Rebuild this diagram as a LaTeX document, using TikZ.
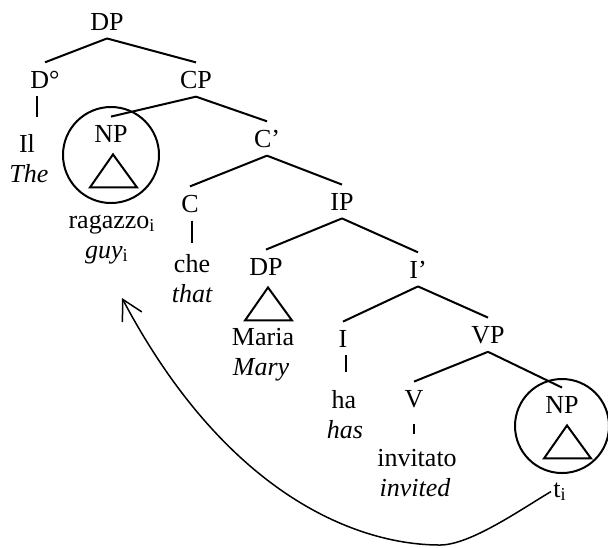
\documentclass[tikz,border=0pt]{standalone}
\usepackage{fontspec}
\setmainfont{Liberation Serif}
\usetikzlibrary{arrows.meta}

\tikzset{
  cat/.style={anchor=base,inner sep=4pt,font=\fontsize{13}{15}\selectfont},
  word/.style={anchor=base,inner sep=1pt,font=\fontsize{13}{15}\selectfont},
  gloss/.style={word,font=\fontsize{13}{15}\selectfont\itshape},
  branch/.style={line width=1pt},
  movement/.style={line width=0.75pt,-{Straight Barb[length=10pt,width=11pt]}},
}

\begin{document}
\begin{tikzpicture}[x=0.5pt,y=-0.5pt]
\useasboundingbox (0,0) rectangle (608,547);

% categories
\node[cat] (dp)   at (107,30)  {DP};
\node[cat] (dz)   at (45,88)   {D°};
\node[cat] (cp)   at (196,88)  {CP};
\node[cat] (np1)  at (111,142) {NP};
\node[cat] (cbar) at (267,147) {C’};
\node[cat] (c)    at (190,212) {C};
\node[cat] (ip)   at (342,210) {IP};
\node[cat] (dp2)  at (266,275) {DP};
\node[cat] (ibar) at (418,278) {I’};
\node[cat] (i)    at (343,347) {I};
\node[cat] (vp)   at (488,343) {VP};
\node[cat] (v)    at (414,407) {V};
\node[cat] (np2)  at (562,413) {NP};

% words and glosses
\node[word]  (il)       at (27,152)  {Il};
\node[gloss] (the)      at (29,182)  {The};
\node[word]  (ragazzo)  at (112,228) {ragazzo\textsubscript{i}};
\node[gloss] (guy)      at (107,258) {guy\textsubscript{\upshape i}};
\node[word]  (che)      at (192,272) {che};
\node[gloss] (that)     at (192,302) {that};
\node[word]  (maria)    at (263,345) {Maria};
\node[gloss] (mary)     at (261,375) {Mary};
\node[word]  (ha)       at (344,408) {ha};
\node[gloss] (has)      at (345,438) {has};
\node[word]  (invitato) at (417,466) {invitato};
\node[gloss] (invited)  at (415,496) {invited};
\node[word]  (ti)       at (560,497) {t\textsubscript{i}};

% branches
\foreach \mother/\daughter in {dp/dz,dp/cp,cp/np1,cp/cbar,cbar/c,cbar/ip,
    ip/dp2,ip/ibar,ibar/i,ibar/vp,vp/v,vp/np2}
  \draw[branch] (\mother.south) -- (\daughter.north);

% heads to words
\draw[branch,shorten >=7.5pt] ([xshift=-4pt]dz.south) -- ([xshift=-4pt]dz.south |- il.north);
\draw[branch,shorten >=4.5pt] ([xshift=1pt]c.south) -- ([xshift=1pt]c.south |- che.north);
\draw[branch,shorten >=8pt] ([xshift=1.5pt]i.south) -- ([xshift=1.5pt]i.south |- ha.north);
\draw[branch,shorten <=4pt,shorten >=6pt] (v.south) -- (v.south |- invitato.north);

% triangles
\foreach \n/\dx in {np1/2,dp2/2,np2/5}
  \draw[branch] ([xshift=\dx*0.5pt,yshift=-2pt]\n.south) -- ++(-23,33) -- ++(47,0) -- cycle;

% circled phrases
\draw[branch] ([yshift=-6.5pt]np1.base) circle[radius=24pt];
\draw[branch] ([yshift=-6.5pt]np2.base) circle[radius=23.5pt];

% movement
\coordinate (low) at (440,545);
\coordinate (trace) at (122,298);
\draw[movement] (ti.west) .. controls (520,510) and (470,545) .. (low)
  .. controls (360,545) and (228,498) .. (trace);
\end{tikzpicture}
\end{document}
